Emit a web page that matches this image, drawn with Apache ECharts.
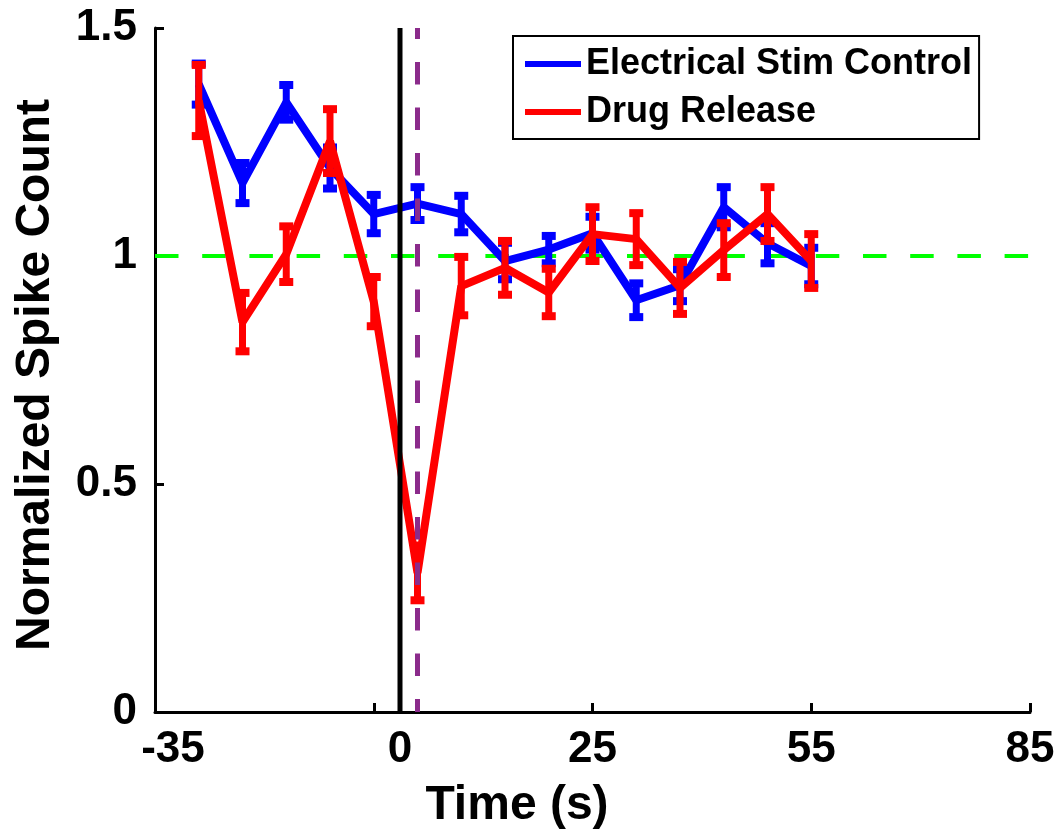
<!DOCTYPE html>
<html>
<head>
<meta charset="utf-8">
<script src="https://cdn.jsdelivr.net/npm/echarts@6/dist/echarts.min.js"></script>
<style>
  html, body { margin: 0; padding: 0; background: #fff; }
  #main { width: 1058px; height: 837px; }
</style>
</head>
<body>
<div id="main"></div>
<script>
// Bin centres (s) and normalized spike counts with their error half-widths
const times = [-29, -23, -17, -11, -5, 1, 7, 13, 19, 25, 31, 37, 43, 49, 55];
const stimMean = [1.377, 1.160, 1.337, 1.193, 1.092, 1.115, 1.092, 0.989, 1.014, 1.050, 0.903, 0.936, 1.107, 1.028, 0.978];
const stimErr  = [0.045, 0.044, 0.038, 0.045, 0.042, 0.036, 0.040, 0.040, 0.030, 0.036, 0.037, 0.035, 0.044, 0.044, 0.040];
const drugMean = [1.341, 0.855, 1.004, 1.252, 0.900, 0.305, 0.934, 0.974, 0.920, 1.048, 1.037, 0.930, 1.013, 1.092, 0.989];
const drugErr  = [0.078, 0.064, 0.061, 0.070, 0.054, 0.060, 0.064, 0.059, 0.052, 0.059, 0.057, 0.057, 0.059, 0.059, 0.059];

// Axis ticks and reference markers
const xTicks = [-35, -5, 25, 55, 85];
const yTicks = [0, 0.5, 1, 1.5];
const stimOnset = -1.4;     // solid black marker, labelled "0"
const releaseTime = 1;      // dashed purple marker
const baseline = 1;         // dashed green baseline

const seriesNames = ['Electrical Stim Control', 'Drug Release'];

const FONT = "'Liberation Sans', Arial, Helvetica, sans-serif";

// Vertical error bar with square caps at both ends
function errorBarRenderer(color) {
  return function (params, api) {
    const x = api.value(0);
    const lo = api.coord([x, api.value(1)]);
    const hi = api.coord([x, api.value(2)]);
    const stemW = 7, capW = 14, capH = 8;
    return {
      type: 'group',
      children: [
        { type: 'rect', shape: { x: lo[0] - stemW / 2, y: hi[1], width: stemW, height: lo[1] - hi[1] }, style: { fill: color } },
        { type: 'rect', shape: { x: hi[0] - capW / 2, y: hi[1] - capH / 2, width: capW, height: capH }, style: { fill: color } },
        { type: 'rect', shape: { x: lo[0] - capW / 2, y: lo[1] - capH / 2, width: capW, height: capH }, style: { fill: color } }
      ]
    };
  };
}

const pairs = (ys) => times.map((t, i) => [t, ys[i]]);
const bars = (m, e) => times.map((t, i) => [t, m[i] - e[i], m[i] + e[i]]);

const chart = echarts.init(document.getElementById('main'), null, { renderer: 'canvas' });

chart.setOption({
  animation: false,
  backgroundColor: '#fff',
  textStyle: { fontFamily: FONT },
  grid: { left: 155, right: 28, top: 28, bottom: 125, containLabel: false },
  legend: {
    left: 513, top: 36,
    orient: 'vertical',
    padding: [8, 7, 7, 12],
    itemGap: 8,
    itemWidth: 56, itemHeight: 6,
    borderColor: '#000', borderWidth: 2,
    backgroundColor: '#fff',
    data: seriesNames.map(n => ({ name: n, icon: 'rect' })),
    textStyle: { fontFamily: FONT, fontSize: 36, fontWeight: 'bold', color: '#000', lineHeight: 40 }
  },
  xAxis: {
    type: 'value',
    min: xTicks[0], max: xTicks[xTicks.length - 1], interval: xTicks[1] - xTicks[0],
    splitLine: { show: false },
    axisLine: { onZero: false, lineStyle: { color: '#000', width: 3 } },
    axisTick: { inside: true, length: 9, lineStyle: { color: '#000', width: 3 } },
    axisLabel: {
      margin: 16,
      color: '#000', fontFamily: FONT, fontSize: 44, fontWeight: 'bold',
      formatter: v => v === xTicks[0] ? '{s|' + v + '}' : (v === xTicks[1] ? '' : String(v)),
      rich: { s: { fontFamily: FONT, fontSize: 44, fontWeight: 'bold', color: '#000', padding: [0, 0, 0, 36] } }
    }
  },
  yAxis: {
    type: 'value',
    min: yTicks[0], max: yTicks[yTicks.length - 1], interval: yTicks[1] - yTicks[0],
    splitLine: { show: false },
    axisLine: { onZero: false, lineStyle: { color: '#000', width: 3 } },
    axisTick: { inside: true, length: 9, lineStyle: { color: '#000', width: 3 } },
    axisLabel: { margin: 18, color: '#000', fontFamily: FONT, fontSize: 44, fontWeight: 'bold' }
  },
  graphic: [
    {
      type: 'text', x: 517, y: 806,
      style: { text: 'Time (s)', fill: '#000', font: 'bold 48px ' + FONT, textAlign: 'center', textVerticalAlign: 'middle' }
    },
    {
      type: 'text', x: 36, y: 375, rotation: Math.PI / 2,
      style: { text: 'Normalized Spike Count', fill: '#000', font: 'bold 48px ' + FONT, textAlign: 'center', textVerticalAlign: 'middle' }
    }
  ],
  series: [
    {
      name: 'baseline', type: 'line', z: 1, silent: true,
      data: [[xTicks[0], baseline], [xTicks[xTicks.length - 1], baseline]],
      symbol: 'none',
      lineStyle: { color: '#00ff00', width: 4, type: [23.5, 23.7] }
    },
    {
      name: seriesNames[0], type: 'line', z: 2, color: '#0000ff',
      data: pairs(stimMean), symbol: 'none',
      lineStyle: { color: '#0000ff', width: 8 }
    },
    {
      name: 'stimErr', type: 'custom', z: 2,
      data: bars(stimMean, stimErr), encode: { x: 0, y: [1, 2] },
      renderItem: errorBarRenderer('#0000ff')
    },
    {
      name: seriesNames[1], type: 'line', z: 3, color: '#ff0000',
      data: pairs(drugMean), symbol: 'none',
      lineStyle: { color: '#ff0000', width: 8 }
    },
    {
      name: 'drugErr', type: 'custom', z: 3,
      data: bars(drugMean, drugErr), encode: { x: 0, y: [1, 2] },
      renderItem: errorBarRenderer('#ff0000')
    },
    {
      name: 'onset', type: 'line', z: 4, silent: true, clip: false,
      symbol: 'circle', symbolSize: 0, showSymbol: true,
      data: [
        { value: [stimOnset, yTicks[0]], label: { show: true, position: 'bottom', distance: 16, formatter: '0', color: '#000', fontFamily: FONT, fontSize: 44, fontWeight: 'bold' } },
        [stimOnset, yTicks[yTicks.length - 1]]
      ],
      lineStyle: { color: '#000', width: 5 }
    },
    {
      name: 'release', type: 'line', z: 5, silent: true,
      symbol: 'none',
      data: [[releaseTime, yTicks[0]], [releaseTime, yTicks[yTicks.length - 1]]],
      lineStyle: { color: '#8b2b8b', width: 5, type: [22.5, 23], dashOffset: 9.5 }
    }
  ]
});
</script>
</body>
</html>
